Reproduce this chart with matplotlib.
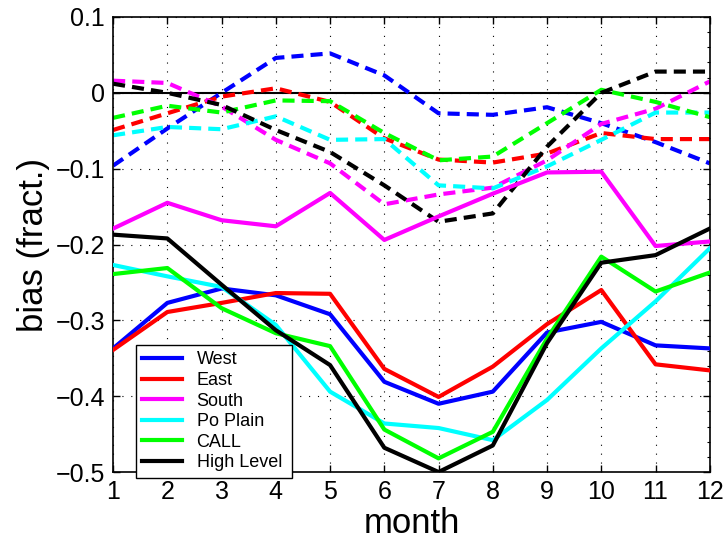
import numpy as np
import matplotlib.pyplot as plt
from matplotlib.ticker import MultipleLocator

plt.rcParams['font.family'] = ['Liberation Sans', 'DejaVu Sans']

months = np.arange(1, 13)

# solid lines: first set of bias values per region
west = [-0.337, -0.277, -0.258, -0.267, -0.292, -0.381, -0.410, -0.394, -0.316, -0.302, -0.333, -0.337]
east = [-0.339, -0.289, -0.277, -0.264, -0.265, -0.364, -0.401, -0.361, -0.305, -0.260, -0.358, -0.366]
south = [-0.179, -0.145, -0.168, -0.176, -0.132, -0.194, -0.163, -0.133, -0.105, -0.104, -0.202, -0.196]
po_plain = [-0.227, -0.242, -0.256, -0.306, -0.394, -0.436, -0.442, -0.458, -0.405, -0.337, -0.275, -0.205]
call = [-0.239, -0.231, -0.284, -0.317, -0.334, -0.444, -0.482, -0.447, -0.324, -0.216, -0.262, -0.237]
high_level = [-0.187, -0.192, -0.253, -0.313, -0.359, -0.468, -0.500, -0.465, -0.330, -0.224, -0.214, -0.179]

# dashed lines: second set
west_d = [-0.096, -0.047, 0.000, 0.046, 0.052, 0.023, -0.027, -0.029, -0.019, -0.040, -0.065, -0.093]
east_d = [-0.049, -0.027, -0.005, 0.006, -0.012, -0.060, -0.088, -0.092, -0.080, -0.053, -0.061, -0.061]
south_d = [0.016, 0.013, -0.018, -0.062, -0.093, -0.147, -0.134, -0.125, -0.089, -0.041, -0.021, 0.015]
po_plain_d = [-0.056, -0.045, -0.048, -0.031, -0.062, -0.061, -0.122, -0.126, -0.097, -0.062, -0.026, -0.026]
call_d = [-0.033, -0.017, -0.026, -0.010, -0.011, -0.053, -0.089, -0.084, -0.040, 0.004, -0.012, -0.032]
high_level_d = [0.012, 0.000, -0.016, -0.049, -0.078, -0.122, -0.170, -0.159, -0.071, 0.000, 0.028, 0.028]

names = ['West', 'East', 'South', 'Po Plain', 'CALL', 'High Level']
colors = ['#0000ff', '#ff0000', '#ff00ff', '#00ffff', '#00ff00', '#000000']
solid = [west, east, south, po_plain, call, high_level]
dashed = [west_d, east_d, south_d, po_plain_d, call_d, high_level_d]

fig = plt.figure(figsize=(7.25, 5.41), dpi=100)
ax = fig.add_axes([0.156, 0.1275, 0.823, 0.8411])

ax.axhline(0, color='k', lw=1.5, zorder=1)

for vals, c in zip(dashed, colors):
    ax.plot(months, vals, color=c, lw=3, dashes=(2.9, 1.7), zorder=2)
for vals, c, name in zip(solid, colors, names):
    ax.plot(months, vals, color=c, lw=3, label=name, zorder=3)

ax.set_xlim(1, 12)
ax.set_ylim(-0.5, 0.1)
ax.set_xticks(months)
ax.set_yticks(np.arange(-0.5, 0.11, 0.1))
ax.set_yticklabels(['\u22120.5', '\u22120.4', '\u22120.3', '\u22120.2', '\u22120.1', '0', '0.1'])
ax.yaxis.set_minor_locator(MultipleLocator(0.02))

ax.tick_params(which='major', direction='in', length=5, width=1,
               top=True, right=True, labelsize=18, pad=6)
ax.tick_params(which='minor', direction='in', length=2.5, width=0.8,
               left=False, right=True)
ax.grid(True, which='major', color='k', linestyle=(0, (1, 7)), lw=0.8)
for s in ax.spines.values():
    s.set_linewidth(1.2)

ax.set_xlabel('month', fontsize=25, labelpad=2)
ax.set_ylabel('bias (fract.)', fontsize=25, labelpad=4)

leg = ax.legend(loc='lower left', bbox_to_anchor=(0.0385, -0.0125, 0.261, 0.2985),
                mode='expand', fontsize=13, frameon=True, fancybox=False,
                edgecolor='k', framealpha=1, borderaxespad=0, handlelength=2.2,
                labelspacing=0.2, borderpad=0.35, handletextpad=0.8)
leg.get_frame().set_linewidth(1.0)
leg.set_zorder(5)

fig.savefig('out.png', dpi=100)
